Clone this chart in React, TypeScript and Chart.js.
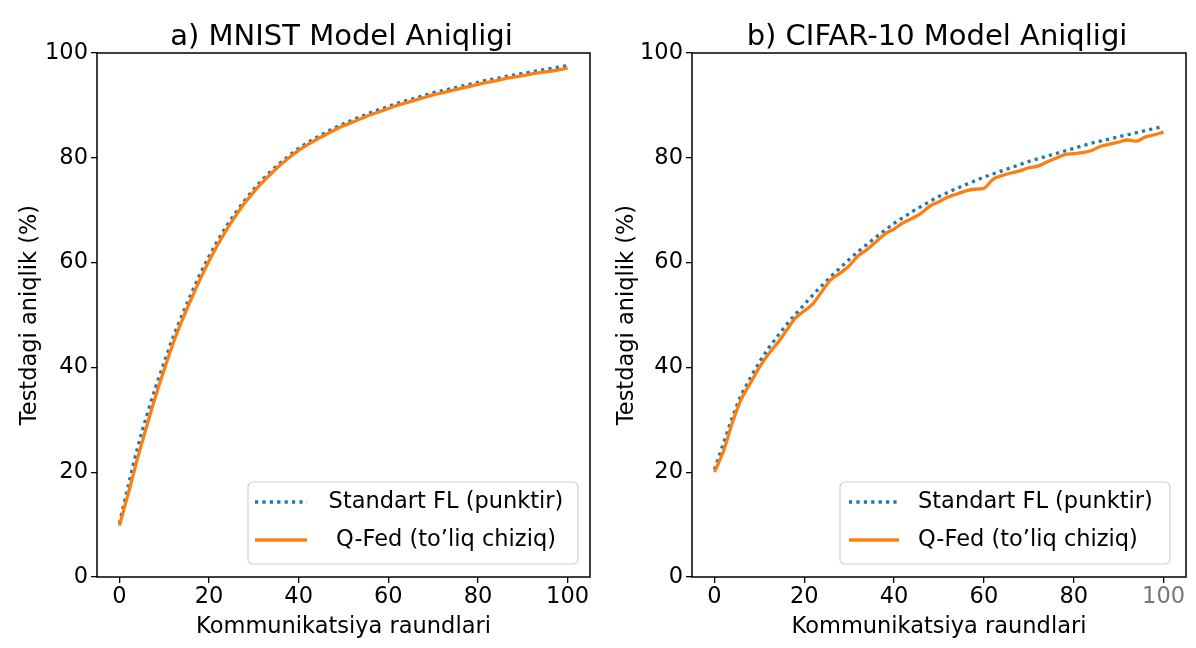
import React, { useEffect, useRef } from 'react';
import { Chart, registerables } from 'chart.js';
Chart.register(...registerables);

const FONT = '"DejaVu Sans", sans-serif';
const BLUE = '#1f77b4';
const ORANGE = '#ff7f0e';

const rounds = [0, 2, 4, 6, 8, 10, 12, 14, 16, 18, 20, 22, 24, 26, 28, 30, 32, 34, 36, 38, 40, 42, 44, 46, 48, 50, 52, 54, 56, 58, 60, 62, 64, 66, 68, 70, 72, 74, 76, 78, 80, 82, 84, 86, 88, 90, 92, 94, 96, 98, 100];
const xTicks = [0, 20, 40, 60, 80, 100];
const yTicks = [0, 20, 40, 60, 80, 100];

const mnistStandard = [10.2, 17.5, 24.5, 30.5, 36, 41, 45.8, 50, 54, 57.8, 61.2, 64.3, 67.1, 69.6, 71.9, 74, 75.9, 77.6, 79.1, 80.5, 81.8, 82.9, 83.9, 84.8, 85.7, 86.5, 87.2, 87.9, 88.6, 89.2, 89.8, 90.4, 90.9, 91.4, 91.9, 92.4, 92.8, 93.2, 93.6, 94, 94.4, 94.8, 95.1, 95.5, 95.8, 96.1, 96.4, 96.7, 97, 97.3, 97.6];
const mnistQFed = [9.8, 16, 22.5, 28.5, 34.3, 39.6, 44.6, 49, 53, 56.8, 60.3, 63.5, 66.4, 69, 71.4, 73.5, 75.4, 77.1, 78.7, 80.1, 81.4, 82.5, 83.5, 84.4, 85.3, 86.1, 86.8, 87.5, 88.2, 88.8, 89.4, 90, 90.5, 91, 91.5, 92, 92.4, 92.8, 93.2, 93.6, 94, 94.4, 94.7, 95.1, 95.4, 95.7, 96, 96.3, 96.5, 96.8, 97.1];
const cifarStandard = [20.5, 25.5, 30.5, 34.8, 38, 41, 43.6, 45.9, 48.1, 50.1, 52, 53.9, 55.7, 57.4, 59, 60.6, 62.1, 63.5, 64.9, 66.2, 67.5, 68.6, 69.7, 70.7, 71.7, 72.6, 73.4, 74.2, 74.9, 75.6, 76.3, 76.9, 77.5, 78.1, 78.7, 79.3, 79.8, 80.3, 80.8, 81.3, 81.8, 82.3, 82.8, 83.2, 83.6, 84, 84.4, 84.8, 85.2, 85.6, 86];
const cifarQFed = [20, 24, 29.5, 34, 37, 40, 42.5, 44.6, 47, 49.4, 50.8, 52.2, 54.6, 56.8, 58, 59.4, 61.3, 62.5, 64, 65.5, 66.4, 67.6, 68.4, 69.4, 70.8, 71.6, 72.5, 73.1, 73.7, 74, 74.2, 75.9, 76.6, 77.1, 77.5, 78.1, 78.4, 79.2, 79.9, 80.6, 80.8, 81, 81.4, 82.2, 82.6, 83, 83.4, 83.2, 84, 84.4, 84.9];

const seriesLabels = ['Standart FL (punktir)', 'Q-Fed (to\u2019liq chiziq)'];
const panelTitles = ['a) MNIST Model Aniqligi', 'b) CIFAR-10 Model Aniqligi'];
const xLabel = 'Kommunikatsiya raundlari';
const yLabel = 'Testdagi aniqlik (%)';

const decorPlugin = {
  id: 'decor',
  afterDraw(chart: any, _args: any, opts: any) {
    const { ctx, chartArea: a } = chart;
    ctx.save();
    ctx.strokeStyle = '#000';
    ctx.lineWidth = 1.5;
    ctx.setLineDash([]);
    ctx.strokeRect(a.left, a.top, a.right - a.left, a.bottom - a.top);

    ctx.fillStyle = '#000';
    ctx.font = `29px ${FONT}`;
    ctx.textAlign = 'center';
    ctx.textBaseline = 'alphabetic';
    ctx.fillText(opts.title, (a.left + a.right) / 2 + opts.titleDx, opts.titleY);

    const L = opts.legend;
    ctx.beginPath();
    ctx.roundRect(L.x, L.y, L.w, L.h, 5);
    ctx.fillStyle = 'rgba(255,255,255,0.85)';
    ctx.fill();
    ctx.strokeStyle = '#d0d0d0';
    ctx.lineWidth = 1.2;
    ctx.stroke();

    ctx.lineWidth = 3.3;
    ctx.strokeStyle = BLUE;
    ctx.setLineDash([3.2, 4.2]);
    ctx.beginPath();
    ctx.moveTo(L.hx1, L.row1);
    ctx.lineTo(L.hx2, L.row1);
    ctx.stroke();
    ctx.setLineDash([]);
    ctx.strokeStyle = ORANGE;
    ctx.beginPath();
    ctx.moveTo(L.hx1, L.row2);
    ctx.lineTo(L.hx2, L.row2);
    ctx.stroke();

    ctx.fillStyle = '#000';
    ctx.font = `22.5px ${FONT}`;
    ctx.textBaseline = 'middle';
    ctx.textAlign = L.align;
    ctx.fillText(seriesLabels[0], L.tx, L.row1);
    ctx.fillText(seriesLabels[1], L.tx, L.row2);
    ctx.restore();
  },
};

type PanelProps = {
  left: number;
  title: string;
  std: number[];
  qfed: number[];
  yWidth: number;
  padRight: number;
  yTitlePad: number;
  legend: any;
  grayLast: boolean;
};

function Panel(p: PanelProps) {
  const ref = useRef<HTMLCanvasElement | null>(null);
  useEffect(() => {
    if (!ref.current) return;
    const tickFont = { family: FONT, size: 22.5 };
    const chart = new Chart(ref.current, {
      type: 'line',
      data: {
        datasets: [
          {
            label: seriesLabels[0],
            data: rounds.map((r, i) => ({ x: r, y: p.std[i] })),
            borderColor: BLUE,
            borderWidth: 3.3,
            borderDash: [3.2, 4.2],
            pointRadius: 0,
            fill: false,
            cubicInterpolationMode: 'monotone',
            order: 1,
          },
          {
            label: seriesLabels[1],
            data: rounds.map((r, i) => ({ x: r, y: p.qfed[i] })),
            borderColor: ORANGE,
            borderWidth: 3.3,
            pointRadius: 0,
            fill: false,
            cubicInterpolationMode: 'monotone',
            order: 0,
          },
        ],
      },
      options: {
        responsive: false,
        animation: false,
        devicePixelRatio: 1,
        layout: { padding: { top: 53, right: p.padRight, left: 0, bottom: 0 } },
        plugins: {
          legend: { display: false },
          tooltip: { enabled: false },
          decor: { title: p.title, titleDx: -2, titleY: 45, legend: p.legend },
        } as any,
        scales: {
          x: {
            type: 'linear',
            min: -5,
            max: 105,
            afterBuildTicks: (s: any) => { s.ticks = xTicks.map((v) => ({ value: v })); },
            afterFit: (s: any) => { s.height = 71; },
            grid: { display: true, drawOnChartArea: false, drawTicks: true, tickLength: 6, color: '#000', lineWidth: 1.3 },
            border: { display: false },
            ticks: {
              font: tickFont,
              color: (c: any) => (p.grayLast && c.tick && c.tick.value === 100 ? '#777' : '#000'),
              padding: 1,
              maxRotation: 0,
              autoSkip: false,
            },
            title: { display: true, text: xLabel, font: tickFont, color: '#000', padding: { top: 0, bottom: 7 } },
          },
          y: {
            type: 'linear',
            min: 0,
            max: 100,
            afterBuildTicks: (s: any) => { s.ticks = yTicks.map((v) => ({ value: v })); },
            afterFit: (s: any) => { s.width = p.yWidth; },
            grid: { display: true, drawOnChartArea: false, drawTicks: true, tickLength: 6, color: '#000', lineWidth: 1.3 },
            border: { display: false },
            ticks: { font: tickFont, color: '#000', padding: 3, autoSkip: false },
            title: { display: true, text: yLabel, font: tickFont, color: '#000', padding: { top: p.yTitlePad, bottom: 0 } },
          },
        },
      } as any,
      plugins: [decorPlugin as any],
    });
    return () => chart.destroy();
  }, []);
  return (
    <canvas
      ref={ref}
      width={598}
      height={648}
      style={{ position: 'absolute', left: p.left, top: 0, width: 598, height: 648 }}
    />
  );
}

export default function App() {
  return (
    <div style={{ position: 'fixed', left: 0, top: 0, width: 1196, height: 648, background: '#fff', overflow: 'hidden' }}>
      <Panel
        left={0}
        title={panelTitles[0]}
        std={mnistStandard}
        qfed={mnistQFed}
        yWidth={97}
        padRight={8}
        yTitlePad={16.5}
        grayLast={false}
        legend={{ x: 248, y: 482, w: 330, h: 82, hx1: 255, hx2: 307, row1: 502, row2: 540, tx: 446, align: 'center' }}
      />
      <Panel
        left={598}
        title={panelTitles[1]}
        std={cifarStandard}
        qfed={cifarQFed}
        yWidth={94}
        padRight={10}
        yTitlePad={15.5}
        grayLast={true}
        legend={{ x: 242, y: 482, w: 330, h: 82, hx1: 251, hx2: 301, row1: 502, row2: 540, tx: 320, align: 'left' }}
      />
    </div>
  );
}
